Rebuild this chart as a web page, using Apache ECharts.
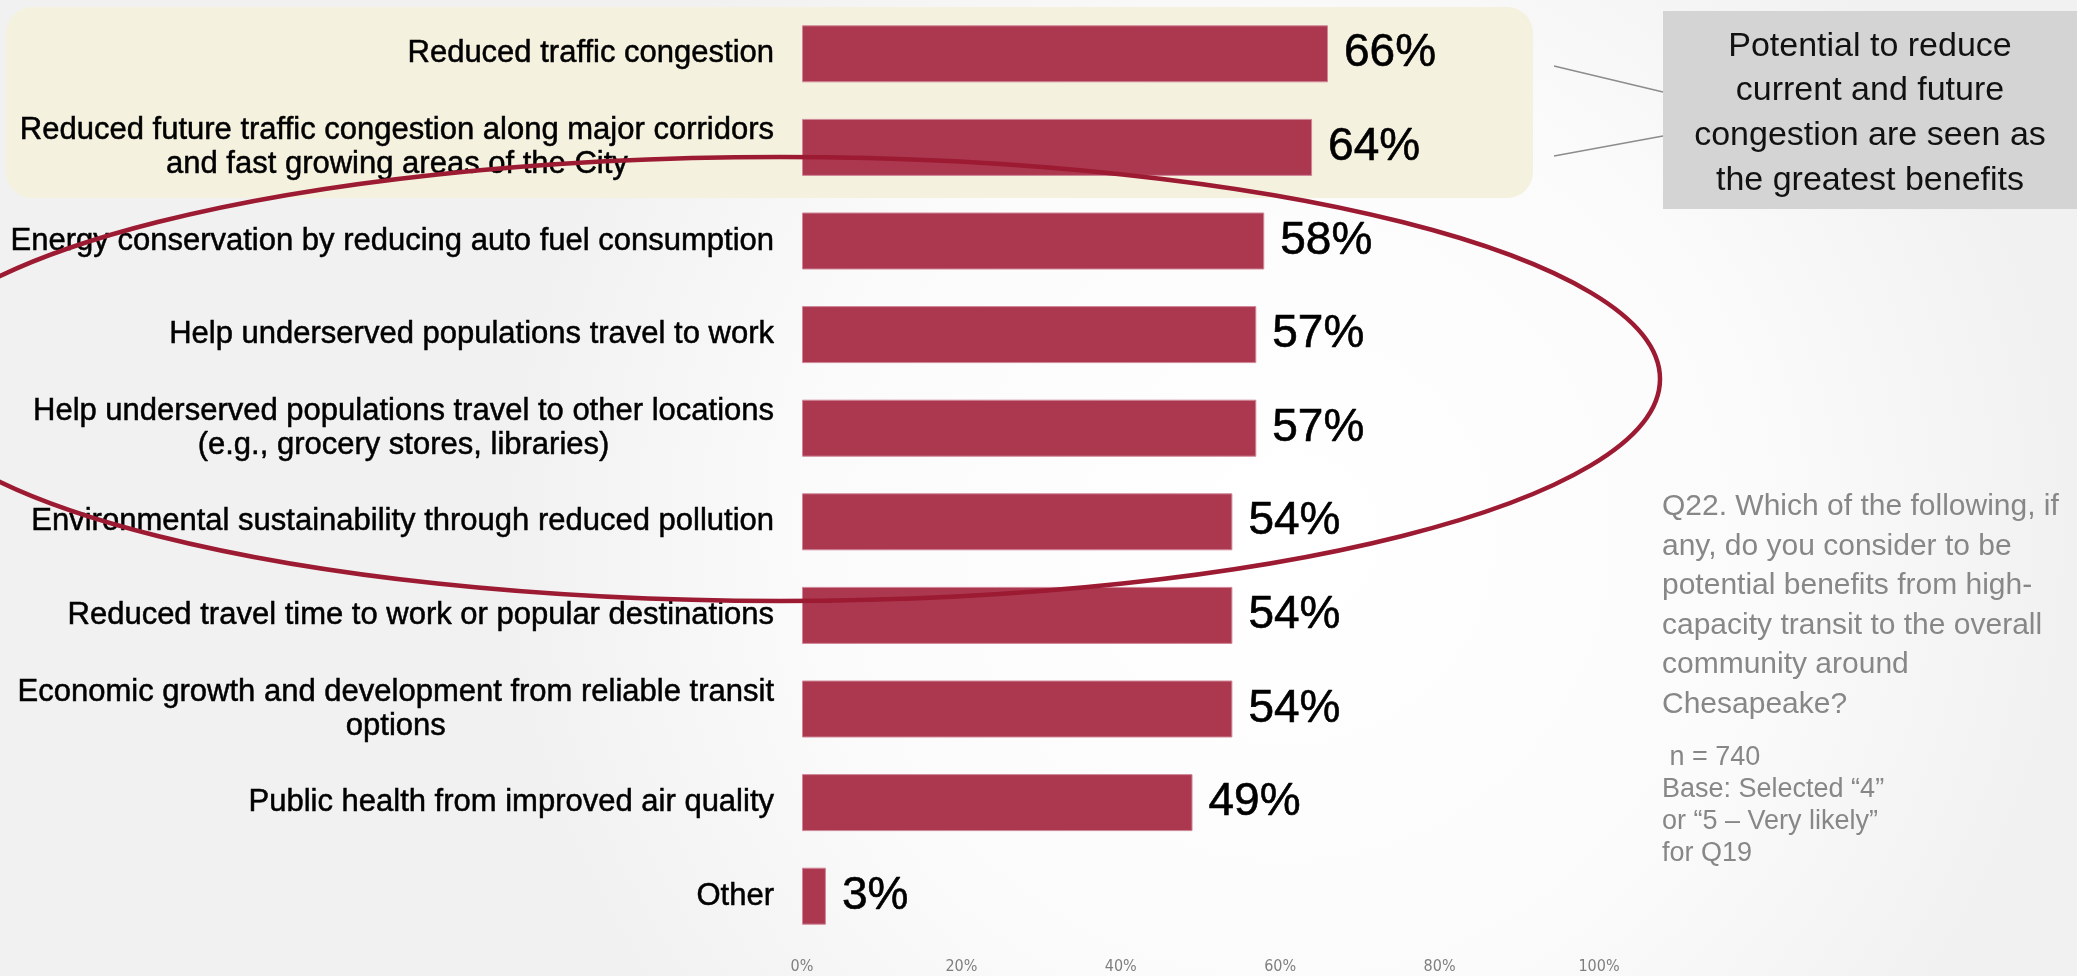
<!DOCTYPE html>
<html>
<head>
<meta charset="utf-8">
<script src="https://cdn.jsdelivr.net/npm/echarts@6/dist/echarts.min.js"></script>
<style>
  html, body { margin: 0; padding: 0; background: #f7f7f7; }
  #chart { width: 2077px; height: 976px; }
</style>
</head>
<body>
<div id="chart"></div>
<script>
// Benefits of high-capacity transit, share of respondents (%)
const categories = [
  'Reduced traffic congestion',
  'Reduced future traffic congestion along major corridors\nand fast growing areas of the City',
  'Energy conservation by reducing auto fuel consumption',
  'Help underserved populations travel to work',
  'Help underserved populations travel to other locations\n(e.g., grocery stores, libraries)',
  'Environmental sustainability through reduced pollution',
  'Reduced travel time to work or popular destinations',
  'Economic growth and development from reliable transit\noptions',
  'Public health from improved air quality',
  'Other'
];
const values = [66, 64, 58, 57, 57, 54, 54, 54, 49, 3];

// Percent axis: 0% .. 100% in steps of 20
const axisMin = 0;
const axisMax = 100;
const axisStep = 20;

const calloutLines = [
  'Potential to reduce',
  'current and future',
  'congestion are seen as',
  'the greatest benefits'
];
const questionLines = [
  'Q22. Which of the following, if',
  'any, do you consider to be',
  'potential benefits from high-',
  'capacity transit to the overall',
  'community around',
  'Chesapeake?'
];
const baseLines = [
  ' n = 740',
  'Base: Selected \u201C4\u201D',
  'or \u201C5 \u2013 Very likely\u201D',
  'for Q19'
];

const sansFont = '"Liberation Sans", Arial, Helvetica, sans-serif';
const narrowFont = '"Liberation Sans Narrow", "DejaVu Sans Condensed", "Liberation Sans", sans-serif';

const chart = echarts.init(document.getElementById('chart'), null, { renderer: 'canvas' });

const option = {
  animation: false,
  backgroundColor: {
    type: 'radial', x: 0.62, y: 0.55, r: 0.8,
    colorStops: [
      { offset: 0, color: '#ffffff' },
      { offset: 0.6, color: '#fbfbfb' },
      { offset: 1, color: '#f1f1f1' }
    ]
  },
  grid: { left: 802, right: 478, top: 7, bottom: 33 },
  xAxis: {
    type: 'value',
    min: axisMin,
    max: axisMax,
    interval: axisStep,
    axisLine: { show: false },
    axisTick: { show: false },
    splitLine: { show: false },
    axisLabel: {
      formatter: '{value}%',
      color: '#7f7f7f',
      fontFamily: narrowFont,
      fontSize: 16,
      margin: 16
    }
  },
  yAxis: {
    type: 'category',
    inverse: true,
    data: categories,
    axisLine: { show: false },
    axisTick: { show: false },
    axisLabel: {
      interval: 0,
      margin: 28,
      formatter: function (v) {
        return v.split('\n').map(function (l) { return '{c|' + l + '}'; }).join('\n');
      },
      rich: {
        c: {
          align: 'center',
          fontFamily: sansFont,
          fontSize: 31,
          lineHeight: 34,
          color: '#000000',
          textBorderColor: '#000000',
          textBorderWidth: 0.5
        }
      }
    }
  },
  series: [{
    type: 'bar',
    data: values,
    barWidth: 57,
    silent: true,
    itemStyle: { color: '#ac3850', borderColor: '#cf8797', borderWidth: 1 },
    label: {
      show: true,
      position: 'right',
      distance: 16,
      formatter: '{c}%',
      fontFamily: sansFont,
      fontSize: 46,
      color: '#000000',
      textBorderColor: '#000000',
      textBorderWidth: 0.6
    }
  }],
  graphic: [
    // highlight panel behind the two congestion items
    {
      type: 'rect', z: -10, silent: true,
      shape: { x: 6, y: 7, width: 1527, height: 191, r: 26 },
      style: { fill: '#f5f1df' }
    },
    // connectors to the callout box
    {
      type: 'line', silent: true,
      shape: { x1: 1554, y1: 66, x2: 1663, y2: 92 },
      style: { stroke: '#8c8c8c', lineWidth: 1.5 }
    },
    {
      type: 'line', silent: true,
      shape: { x1: 1554, y1: 156, x2: 1663, y2: 136 },
      style: { stroke: '#8c8c8c', lineWidth: 1.5 }
    },
    // callout box
    {
      type: 'rect', silent: true,
      shape: { x: 1663, y: 11, width: 414, height: 198 },
      style: { fill: '#d4d4d4' }
    },
    {
      type: 'text', silent: true, x: 1870, y: 24,
      style: {
        text: calloutLines.join('\n'),
        fontFamily: sansFont, fontSize: 34, lineHeight: 44.7,
        fill: '#111111', align: 'center', verticalAlign: 'top',
        textAlign: 'center', textVerticalAlign: 'top'
      }
    },
    // question text
    {
      type: 'text', silent: true, x: 1662, y: 487,
      style: {
        text: questionLines.join('\n'),
        fontFamily: sansFont, fontSize: 30, lineHeight: 39.5,
        fill: '#878787', align: 'left', verticalAlign: 'top',
        textAlign: 'left', textVerticalAlign: 'top'
      }
    },
    {
      type: 'text', silent: true, x: 1662, y: 742,
      style: {
        text: baseLines.join('\n'),
        fontFamily: sansFont, fontSize: 27, lineHeight: 32,
        fill: '#878787', align: 'left', verticalAlign: 'top',
        textAlign: 'left', textVerticalAlign: 'top'
      }
    },
    // ring around the middle group of benefits
    {
      type: 'ellipse', z: 100, silent: true,
      shape: { cx: 780, cy: 379, rx: 880, ry: 222 },
      style: { fill: 'none', stroke: '#9c1a32', lineWidth: 4.5 }
    }
  ]
};

chart.setOption(option);
</script>
</body>
</html>
